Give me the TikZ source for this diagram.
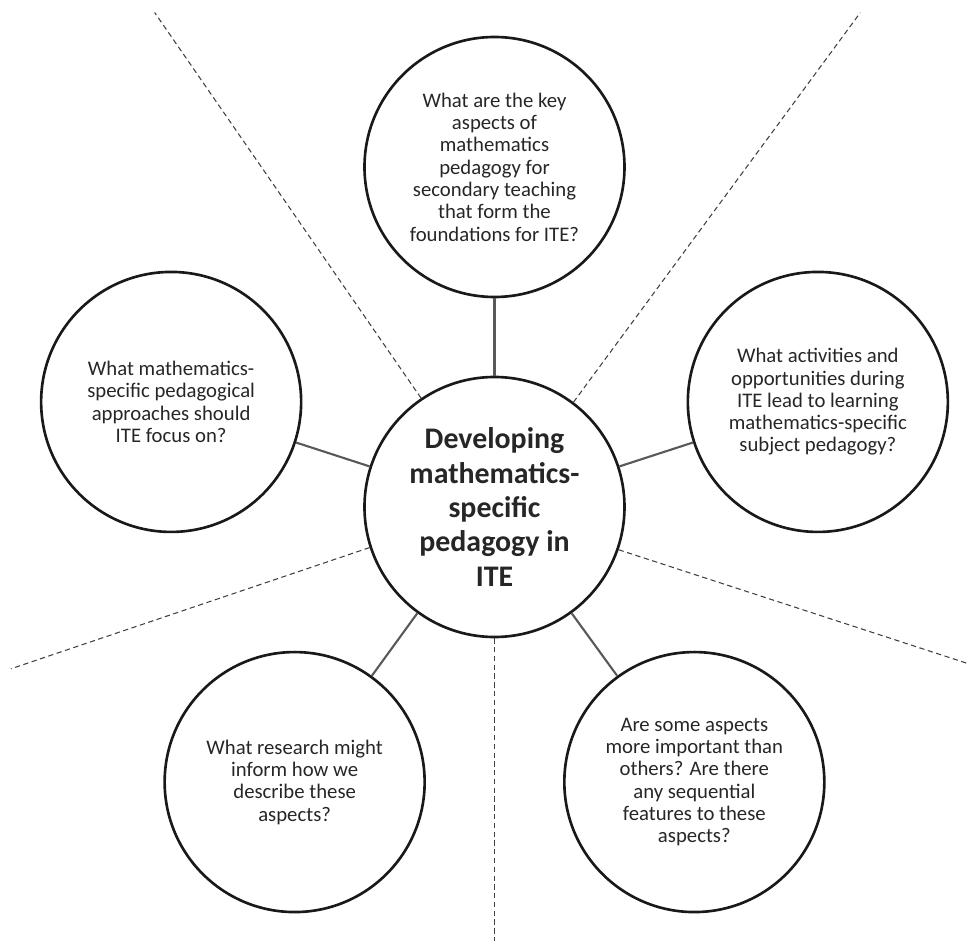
\documentclass[tikz,border=0pt]{standalone}
\usepackage{fontspec}
\setmainfont{Carlito}
\begin{document}
\begin{tikzpicture}[
        topic/.style={circle, draw=black!90, line width=1.5pt, minimum size=5.2cm, inner sep=0pt,
            align=center, text=black!85, font=\fontsize{11.8}{12.7}\selectfont},
        hub/.style={topic, font=\bfseries\fontsize{17}{19.6}\selectfont},
        link/.style={draw=black!65, line width=1.2pt},
        divider/.style={draw=black!75, line width=0.6pt, dash pattern=on 3pt off 2pt}
    ]
        \useasboundingbox (-9.89,-8.68) rectangle (9.47,10.14);

        % Central topic
        \node[hub] (centre) at (0,0) {Developing\\mathematics-\\specific\\pedagogy in\\ITE};

        % Questions placed on a pentagon around it
        \node[topic] (keyaspects) at (90:6.8) {What are the key\\aspects of\\mathematics\\pedagogy for\\secondary teaching\\that form the\\foundations for ITE?};
        \node[topic] (approaches) at (162:6.8) {What mathematics-\\specific pedagogical\\approaches should\\ITE focus on?};
        \node[topic] (activities) at (18:6.8) {What activities and\\opportunities during\\ITE lead to learning\\mathematics-specific\\subject pedagogy?};
        \node[topic] (research) at (234:6.8) {What research might\\inform how we\\describe these\\aspects?};
        \node[topic] (sequence) at (306:6.8) {Are some aspects\\more important than\\others? Are there\\any sequential\\features to these\\aspects?};

        % Links to the centre
        \foreach \q in {keyaspects, approaches, activities, research, sequence}
            \draw[link] (centre) -- (\q);

        % Dashed dividers between the questions
        \foreach \ang/\len [count=\i] in {53.5/12.3, 124.5/12.0, 198.5/10.2, 270/8.7, 341.7/10.0} {
            \coordinate (edge\i) at (\ang:\len);
            \draw[divider] (centre.\ang) -- (edge\i);
        }

    \end{tikzpicture}
\end{document}
